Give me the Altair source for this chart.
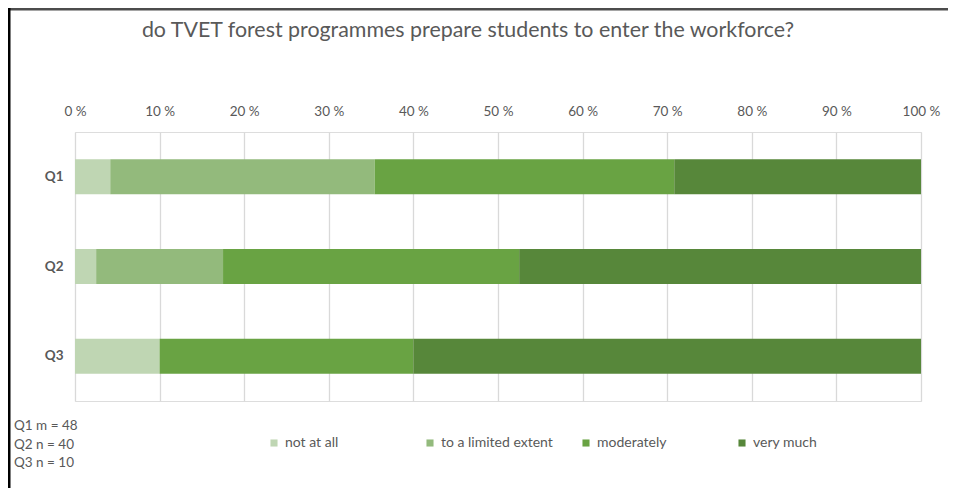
import altair as alt
import pandas as pd

questions = ["Q1", "Q2", "Q3"]
categories = ["not at all", "to a limited extent", "moderately", "very much"]
counts_q1 = [2, 15, 17, 14]
counts_q2 = [1, 6, 14, 19]
counts_q3 = [1, 0, 3, 6]
colors = ["#BFD6B3", "#93BA7C", "#69A343", "#57873A"]
tick_values = [0, 0.1, 0.2, 0.3, 0.4, 0.5, 0.6, 0.7, 0.8, 0.9, 1.0]
notes = "Q1 m = 48\n Q2 n = 40\n Q3 n = 10"
title = "do TVET forest programmes prepare students to enter the workforce?"

rows = []
for q, cs in zip(questions, [counts_q1, counts_q2, counts_q3]):
    for i, (c, v) in enumerate(zip(categories, cs)):
        rows.append({"question": q, "category": c, "order": i, "count": v})
df = pd.DataFrame(rows)

FONT = "Lato"
TXT = "#595959"
W, H = 846, 269
FS = 13.5

bars = alt.Chart(df).mark_bar(size=35).encode(
    y=alt.Y("question:N", sort=questions, title=None,
            scale=alt.Scale(paddingInner=0.61, paddingOuter=0.305),
            axis=alt.Axis(labelFontWeight="bold", labelFontSize=FS, labelColor=TXT,
                          labelFont=FONT, ticks=False, domain=False, labelPadding=12,
                          grid=False)),
    x=alt.X("count:Q", stack="normalize", title=None,
            scale=alt.Scale(domain=[0, 1], nice=False),
            axis=alt.Axis(orient="top", values=tick_values, ticks=False, domain=False,
                          labelExpr="format(datum.value*100, 'd') + ' %'",
                          labelFlush=False, labelOverlap=False,
                          labelFontSize=FS, labelColor=TXT, labelFont=FONT,
                          labelPadding=14, gridColor="#D9D9D9", gridWidth=1.3)),
    color=alt.Color("category:N", sort=categories,
                    scale=alt.Scale(domain=categories, range=colors),
                    legend=alt.Legend(title=None, orient="none", direction="horizontal",
                                      columns=4, gridAlign="all", legendX=192, legendY=304,
                                      symbolType="square", symbolSize=50, symbolStrokeWidth=0,
                                      labelFontSize=14, labelColor=TXT, labelFont=FONT,
                                      columnPadding=26, padding=0, labelOffset=4)),
    order=alt.Order("order:Q"),
)

note = alt.Chart(pd.DataFrame({"t": [notes]})).mark_text(
    align="left", baseline="top", lineBreak="\n", lineHeight=18.5,
    fontSize=FS, color=TXT, font=FONT, clip=False,
).encode(x=alt.value(-61), y=alt.value(287), text="t:N")

head = alt.Chart(pd.DataFrame({"t": [title]})).mark_text(
    align="center", baseline="middle", fontSize=21.4, color=TXT, font=FONT, clip=False,
).encode(x=alt.value(393), y=alt.value(-101), text="t:N")

left_line = alt.Chart(pd.DataFrame({"a": [0]})).mark_rect(
    color="#000000", clip=False,
).encode(x=alt.value(-67), x2=alt.value(-64.5), y=alt.value(-124), y2=alt.value(H + 87))

top_line = alt.Chart(pd.DataFrame({"b": [1]})).mark_tick(
    orient="horizontal", color="#000000", thickness=2.5, size=1100, clip=False,
).encode(x=alt.value(430), y=alt.value(-122.75))

chart = alt.layer(left_line, top_line, bars, note, head).properties(
    width=W, height=H,
    autosize=alt.AutoSizeParams(type="none"),
    padding={"left": 67, "top": 124, "right": 27, "bottom": 87},
).configure_view(stroke=None).configure(background="white")

chart.save("out.html", embed_options={"renderer": "svg", "actions": False})
